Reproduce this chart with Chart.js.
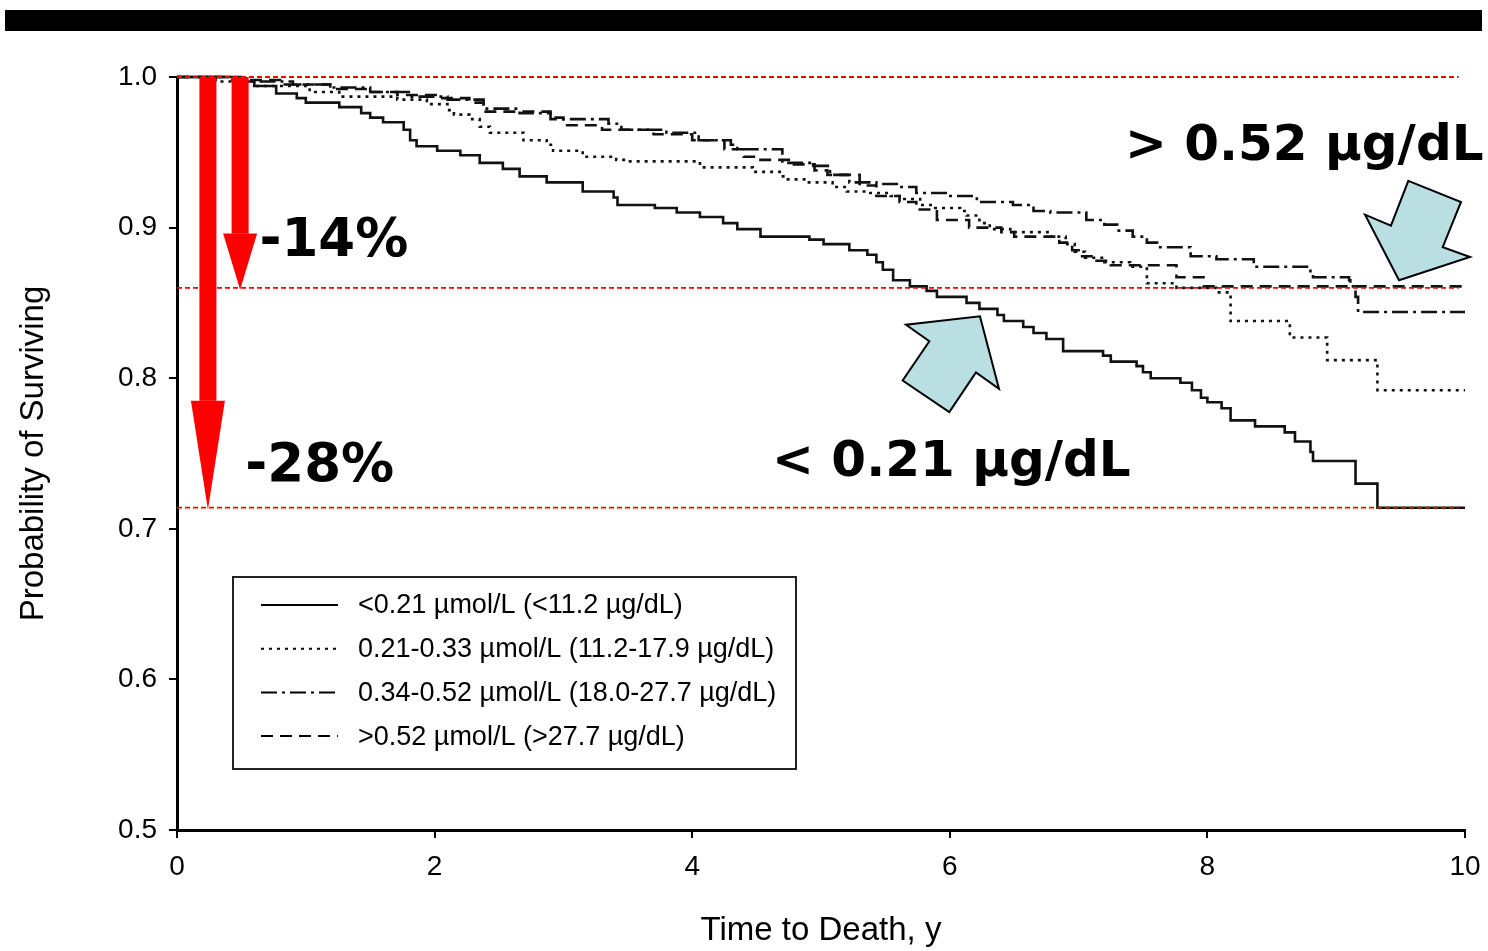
<!DOCTYPE html>
<html>
<head>
<meta charset="utf-8">
<script src="https://cdn.jsdelivr.net/npm/chart.js@4.4.1/dist/chart.umd.min.js"></script>
<style>
  html, body { margin: 0; padding: 0; background: #fff; }
  canvas { display: block; }
</style>
</head>
<body>
<canvas id="kmChart" width="1488" height="951"></canvas>
<script>
// Kaplan-Meier steps: time of each drop (years) and survival after it
const lowTimes = [0, 0.45, 0.6, 0.77, 0.93, 1.0, 1.26, 1.43, 1.5, 1.6, 1.76, 1.81, 1.86, 2.02, 2.2, 2.35, 2.53, 2.66, 2.87, 3.15, 3.39, 3.42, 3.71, 3.88, 4.06, 4.24, 4.35, 4.53, 4.91, 5.02, 5.22, 5.36, 5.43, 5.48, 5.56, 5.69, 5.82, 5.9, 6.13, 6.23, 6.37, 6.42, 6.57, 6.65, 6.75, 6.88, 7.19, 7.25, 7.45, 7.5, 7.56, 7.79, 7.88, 7.95, 8.0, 8.11, 8.18, 8.37, 8.6, 8.68, 8.8, 8.82, 9.15, 9.32, 10];
const lowSurv = [1.0, 0.997, 0.994, 0.989, 0.986, 0.983, 0.98, 0.976, 0.973, 0.97, 0.965, 0.958, 0.954, 0.951, 0.948, 0.943, 0.939, 0.934, 0.93, 0.924, 0.92, 0.915, 0.913, 0.91, 0.907, 0.903, 0.899, 0.894, 0.892, 0.889, 0.885, 0.882, 0.877, 0.872, 0.865, 0.861, 0.858, 0.854, 0.85, 0.846, 0.842, 0.838, 0.834, 0.83, 0.826, 0.818, 0.815, 0.811, 0.808, 0.804, 0.8, 0.797, 0.792, 0.787, 0.784, 0.78, 0.772, 0.768, 0.764, 0.758, 0.751, 0.745, 0.73, 0.714, 0.714];

const midLowTimes = [0, 0.3, 0.6, 1.03, 1.26, 1.71, 1.94, 2.1, 2.15, 2.27, 2.35, 2.43, 2.69, 2.87, 2.92, 3.15, 3.41, 3.5, 4.06, 4.47, 4.68, 4.72, 4.89, 5.09, 5.2, 5.36, 5.54, 5.61, 5.77, 5.87, 6.08, 6.13, 6.23, 6.31, 6.47, 6.78, 6.9, 6.97, 7.05, 7.2, 7.4, 7.53, 7.76, 8.07, 8.18, 8.64, 8.93, 9.32, 10];
const midLowSurv = [1.0, 0.997, 0.994, 0.99, 0.987, 0.985, 0.982, 0.978, 0.975, 0.972, 0.967, 0.963, 0.958, 0.955, 0.951, 0.947, 0.945, 0.944, 0.94, 0.937, 0.934, 0.932, 0.93, 0.927, 0.924, 0.923, 0.921, 0.919, 0.915, 0.913, 0.911, 0.908, 0.903, 0.899, 0.897, 0.894, 0.889, 0.884, 0.88, 0.877, 0.874, 0.863, 0.86, 0.857, 0.838, 0.827, 0.812, 0.792, 0.792];

const midHighTimes = [0, 0.5, 0.9, 1.19, 1.5, 1.8, 2.1, 2.38, 2.66, 2.9, 3.35, 3.45, 3.8, 4.05, 4.3, 4.35, 4.7, 4.94, 5.07, 5.22, 5.43, 5.61, 5.74, 5.98, 6.21, 6.49, 6.65, 6.78, 7.06, 7.2, 7.3, 7.42, 7.53, 7.61, 7.87, 8.07, 8.36, 8.8, 8.82, 9.1, 9.11, 9.15, 9.17, 10];
const midHighSurv = [1.0, 0.997, 0.995, 0.993, 0.99, 0.987, 0.985, 0.979, 0.976, 0.972, 0.969, 0.965, 0.963, 0.958, 0.955, 0.952, 0.943, 0.941, 0.935, 0.93, 0.929, 0.927, 0.923, 0.921, 0.917, 0.915, 0.911, 0.91, 0.905, 0.902, 0.898, 0.894, 0.89, 0.887, 0.881, 0.879, 0.874, 0.871, 0.867, 0.865, 0.861, 0.854, 0.844, 0.844];

const highTimes = [0, 0.4, 0.8, 1.19, 1.5, 1.71, 2.02, 2.27, 2.38, 2.9, 3.0, 3.3, 3.7, 4.0, 4.25, 4.4, 4.5, 4.75, 4.95, 5.05, 5.3, 5.43, 5.61, 5.74, 5.9, 6.15, 6.4, 6.5, 6.85, 6.95, 7.0, 7.1, 7.25, 7.76, 7.97, 10];
const highSurv = [1.0, 0.998, 0.995, 0.992, 0.99, 0.988, 0.986, 0.983, 0.977, 0.973, 0.968, 0.965, 0.962, 0.958, 0.952, 0.947, 0.945, 0.942, 0.938, 0.935, 0.928, 0.921, 0.917, 0.912, 0.905, 0.9, 0.897, 0.894, 0.89, 0.885, 0.881, 0.878, 0.875, 0.867, 0.861, 0.861];

const seriesLabels = [
    '<0.21 \u00b5mol/L (<11.2 \u00b5g/dL)',
    '0.21-0.33 \u00b5mol/L (11.2-17.9 \u00b5g/dL)',
    '0.34-0.52 \u00b5mol/L (18.0-27.7 \u00b5g/dL)',
    '>0.52 \u00b5mol/L (>27.7 \u00b5g/dL)'
];
const yTicks = [0.5, 0.6, 0.7, 0.8, 0.9, 1.0];
const xTicks = [0, 2, 4, 6, 8, 10];

// reference levels shown by the red dashed lines and arrows
const refLevels = [1.0, 0.86, 0.714];
const dropArrows = [
    { x: 0.24, to: 0.714, headAt: 0.785 },
    { x: 0.49, to: 0.86, headAt: 0.896 }
];
const notes = [
    { text: '-14%', x: 0.64, y: 0.881, size: 53 },
    { text: '-28%', x: 0.53, y: 0.732, size: 53 },
    { text: '> 0.52 \u00b5g/dL', x: 7.36, y: 0.945, size: 50 },
    { text: '< 0.21 \u00b5g/dL', x: 4.62, y: 0.735, size: 50 }
];
// block arrows in data units
const blueArrows = [
    [[9.56, 0.931], [9.969, 0.917], [9.827, 0.887], [10.039, 0.8805], [9.488, 0.865], [9.224, 0.9086], [9.425, 0.9013]],
    [[6.234, 0.8411], [6.382, 0.793], [6.203, 0.8039], [5.996, 0.7775], [5.634, 0.7985], [5.841, 0.8245], [5.66, 0.8355]]
];

const toPoints = (ts, vs) => ts.map((t, i) => ({ x: t, y: vs[i] }));

const dashes = [[], [3, 5], [16, 5, 3, 5], [12, 7]];

const overlay = {
    id: 'overlay',
    beforeDraw(chart) {
        const c = chart.ctx;
        c.save();
        c.fillStyle = '#fff';
        c.fillRect(0, 0, chart.width, chart.height);
        c.fillStyle = '#000';
        c.fillRect(5, 10, 1477, 21);
        c.restore();
    },
    afterDatasetsDraw(chart) {
        const c = chart.ctx;
        const xs = chart.scales.x, ys = chart.scales.y;
        c.save();
        // red dashed reference lines
        c.strokeStyle = '#ff0000';
        c.lineWidth = 1.8;
        c.setLineDash([5, 3]);
        refLevels.forEach(v => {
            const py = ys.getPixelForValue(v);
            c.beginPath();
            c.moveTo(xs.getPixelForValue(0), py);
            c.lineTo(xs.getPixelForValue(9.95), py);
            c.stroke();
        });
        c.setLineDash([]);
        // red drop arrows
        c.fillStyle = '#ff0000';
        dropArrows.forEach(a => {
            const cx = xs.getPixelForValue(a.x);
            const top = ys.getPixelForValue(1.0);
            const hb = ys.getPixelForValue(a.headAt);
            const tip = ys.getPixelForValue(a.to);
            c.fillRect(cx - 8.5, top, 17, hb - top);
            c.beginPath();
            c.moveTo(cx - 17, hb);
            c.lineTo(cx + 17, hb);
            c.lineTo(cx, tip + 2);
            c.closePath();
            c.fill();
        });
        // light blue block arrows
        c.fillStyle = '#b9dfe3';
        c.strokeStyle = '#000';
        c.lineWidth = 2;
        blueArrows.forEach(poly => {
            c.beginPath();
            poly.forEach(([vx, vy], i) => {
                const px = xs.getPixelForValue(vx), py = ys.getPixelForValue(vy);
                if (i === 0) c.moveTo(px, py); else c.lineTo(px, py);
            });
            c.closePath();
            c.fill();
            c.stroke();
        });
        // bold callouts
        c.fillStyle = '#000';
        c.textBaseline = 'alphabetic';
        c.textAlign = 'left';
        notes.forEach(n => {
            c.font = `bold ${n.size}px "DejaVu Sans"`;
            c.fillText(n.text, xs.getPixelForValue(n.x), ys.getPixelForValue(n.y));
        });
        c.restore();
    },
    afterDraw(chart) {
        // boxed legend in the lower left of the plot
        const c = chart.ctx;
        const area = chart.chartArea;
        const bx = area.left + 56, by = area.top + 500;
        c.save();
        c.fillStyle = '#fff';
        c.fillRect(bx, by, 563, 192);
        c.strokeStyle = '#222';
        c.lineWidth = 2;
        c.strokeRect(bx, by, 563, 192);
        c.font = '27px "Liberation Sans"';
        c.textBaseline = 'middle';
        c.fillStyle = '#000';
        chart.data.datasets.forEach((ds, i) => {
            const ry = by + 28 + i * 43.7;
            c.strokeStyle = '#000';
            c.lineWidth = 2;
            c.setLineDash(ds.borderDash);
            c.beginPath();
            c.moveTo(bx + 28, ry);
            c.lineTo(bx + 105, ry);
            c.stroke();
            c.setLineDash([]);
            c.fillText(ds.label, bx + 125, ry + 1);
        });
        c.restore();
    }
};

new Chart(document.getElementById('kmChart'), {
    type: 'line',
    data: {
        datasets: [
            toPoints(lowTimes, lowSurv),
            toPoints(midLowTimes, midLowSurv),
            toPoints(midHighTimes, midHighSurv),
            toPoints(highTimes, highSurv)
        ].map((pts, i) => ({
            label: seriesLabels[i],
            data: pts,
            borderColor: '#111',
            borderWidth: 2.6,
            borderDash: dashes[i],
            stepped: true,
            pointRadius: 0,
            fill: false,
            clip: 6
        }))
    },
    options: {
        responsive: false,
        animation: false,
        layout: { padding: { top: 77, right: 23, left: 0, bottom: 0 } },
        scales: {
            x: {
                type: 'linear',
                min: 0,
                max: 10,
                afterBuildTicks: s => { s.ticks = xTicks.map(v => ({ value: v })); },
                afterFit: s => { s.height = 951 - 830; s.paddingLeft = 0; s.paddingRight = 0; },
                border: { color: '#000', width: 3 },
                grid: { drawOnChartArea: false, drawTicks: true, tickLength: 8, color: '#000', lineWidth: 2 },
                ticks: { color: '#000', padding: 12, font: { family: 'Liberation Sans', size: 28 } },
                title: { display: true, text: 'Time to Death, y', color: '#000', padding: { top: 10, bottom: 0 },
                         font: { family: 'Liberation Sans', size: 33 } }
            },
            y: {
                min: 0.5,
                max: 1.0,
                afterBuildTicks: s => { s.ticks = yTicks.map(v => ({ value: v })); },
                afterFit: s => { s.width = 177; s.paddingTop = 0; s.paddingBottom = 0; },
                border: { color: '#000', width: 3 },
                grid: { drawOnChartArea: false, drawTicks: true, tickLength: 8, color: '#000', lineWidth: 2 },
                ticks: { color: '#000', padding: 12, font: { family: 'Liberation Sans', size: 28 },
                         callback: v => v.toFixed(1) },
                title: { display: true, text: 'Probability of Surviving', color: '#000', padding: { top: 14, bottom: 0 },
                         font: { family: 'Liberation Sans', size: 33 } }
            }
        },
        plugins: {
            legend: { display: false },
            tooltip: { enabled: false }
        }
    },
    plugins: [overlay]
});
</script>
</body>
</html>
